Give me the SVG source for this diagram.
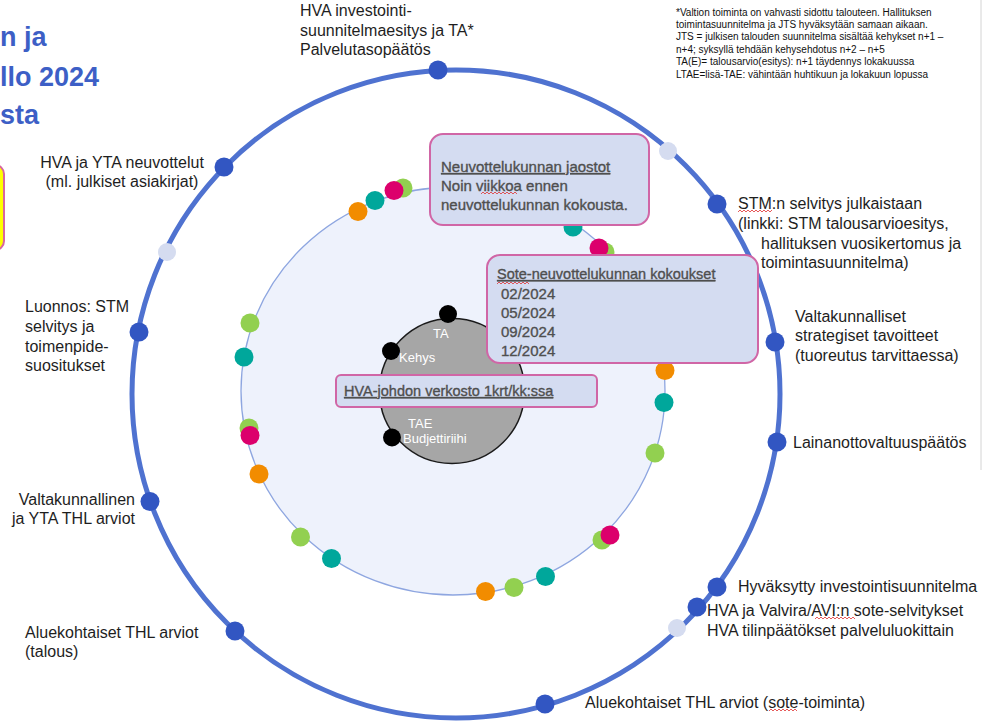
<svg xmlns="http://www.w3.org/2000/svg" width="992" height="724" viewBox="0 0 992 724">
<defs>
<style>
.lbl{font-family:"Liberation Sans",Arial,sans-serif;font-size:16px;fill:#1e1e1e}
.note{font-family:"Liberation Sans",Arial,sans-serif;font-size:10px;fill:#111}
.title{font-family:"Liberation Sans",Arial,sans-serif;font-size:27px;font-weight:bold;fill:#3d5fc6}
.box{fill:#d4dcf1;stroke:#d066a6;stroke-width:2}
.bt{font-family:"Liberation Sans",Arial,sans-serif;font-size:14.5px;fill:#4f4f4f;stroke:#4f4f4f;stroke-width:0.35}
.hd{text-decoration:underline}
.ct{font-family:"Liberation Sans",Arial,sans-serif;font-size:13px;fill:#ffffff}
.d{fill:#3256c2}
.lt{fill:#d5dcf0}
.g{fill:#92d050}
.t{fill:#00a79b}
.o{fill:#f28c00}
.p{fill:#dc006c}
.k{fill:#000}
.sq{fill:none;stroke:#e03030;stroke-width:0.8}
</style>
</defs>
<rect x="0" y="0" width="992" height="724" fill="#ffffff"/>

<g id="title">
<text class="title" x="0" y="46">n ja</text>
<text class="title" x="0" y="86">llo 2024</text>
<text class="title" x="0" y="124">sta</text>
</g>
<g id="yellow-box"><rect x="-30" y="165" width="34" height="85" rx="9" fill="#ffff00" stroke="#d766a0" stroke-width="2"/></g>
<line x1="981" y1="0" x2="981" y2="470" stroke="#d4d4d4" stroke-width="1"/>

<g id="note">
<text class="note" x="676" y="16">*Valtion toiminta on vahvasti sidottu talouteen. Hallituksen</text>
<text class="note" x="676" y="28">toimintasuunnitelma ja JTS hyväksytään samaan aikaan.</text>
<text class="note" x="676" y="40">JTS = julkisen talouden suunnitelma sisältää kehykset n+1 –</text>
<text class="note" x="676" y="52.5">n+4; syksyllä tehdään kehysehdotus n+2 – n+5</text>
<text class="note" x="676" y="65">TA(E)= talousarvio(esitys): n+1 täydennys lokakuussa</text>
<text class="note" x="676" y="77.5">LTAE=lisä-TAE: vähintään huhtikuun ja lokakuun lopussa</text>
</g>

<g id="connectors">
<circle cx="456" cy="394" r="324" fill="none" stroke="#4f72d0" stroke-width="5"/>
<ellipse cx="453" cy="391" rx="212" ry="204" fill="#eef2fc" stroke="#8ea6e0" stroke-width="1.3"/>
</g>

<g id="inner-dots">
<circle class="o" cx="358" cy="211.5" r="9.5"/>
<circle class="t" cx="375" cy="200.5" r="9.5"/>
<circle class="g" cx="403" cy="188" r="9.5"/>
<circle class="p" cx="394" cy="190.5" r="9.5"/>
<circle class="g" cx="250" cy="323" r="9.5"/>
<circle class="t" cx="244" cy="357" r="9.5"/>
<circle class="g" cx="249" cy="428" r="9.5"/>
<circle class="p" cx="250" cy="435.5" r="9.5"/>
<circle class="o" cx="259" cy="474" r="9.5"/>
<circle class="g" cx="300.5" cy="537" r="9.5"/>
<circle class="t" cx="331.5" cy="558.5" r="9.5"/>
<circle class="o" cx="485.5" cy="591.5" r="9.5"/>
<circle class="g" cx="514" cy="587.5" r="9.5"/>
<circle class="t" cx="545.5" cy="576.5" r="9.5"/>
<circle class="g" cx="602" cy="540" r="9.5"/>
<circle class="p" cx="610" cy="535" r="9.5"/>
<circle class="g" cx="655" cy="453" r="9.5"/>
<circle class="t" cx="664" cy="402.5" r="9.5"/>
<circle class="o" cx="665" cy="370.5" r="9.5"/>
<circle class="g" cx="605" cy="252" r="9.5"/>
<circle class="p" cx="599" cy="248" r="9.5"/>
<circle class="t" cx="573" cy="227" r="9.5"/>
</g>

<g id="core">
<circle cx="452" cy="391" r="72.5" fill="#a6a6a6" stroke="#1a1a1a" stroke-width="1.5"/>
<circle class="k" cx="448" cy="314" r="9"/>
<circle class="k" cx="391" cy="351" r="9"/>
<circle class="k" cx="392" cy="437.5" r="9"/>
<text class="ct" x="433" y="338">TA</text>
<text class="ct" x="399" y="362">Kehys</text>
<text class="ct" x="408" y="428">TAE</text>
<text class="ct" x="403" y="443">Budjettiriihi</text>
</g>

<g id="box-jaostot">
<rect class="box" x="430" y="134" width="219" height="91" rx="13"/>
<text class="bt hd" x="441" y="172" style="font-size:15px">Neuvottelukunnan jaostot</text>
<text class="bt" x="441" y="191" style="font-size:15px">Noin viikkoa ennen</text>
<text class="bt" x="441" y="210" style="font-size:15px">neuvottelukunnan kokousta.</text>
<path class="sq" d="M481 194 l2 -2 l2 2 l2 -2 l2 2 l2 -2 l2 2 l2 -2 l2 2 l2 -2 l2 2 l2 -2 l2 2 l2 -2 l2 2 l2 -2 l2 2 l2 -2 l2 2"/>
</g>

<g id="box-sote">
<rect class="box" x="487" y="255" width="271" height="108" rx="13"/>
<text class="bt hd" x="497" y="279">Sote-neuvottelukunnan kokoukset</text>
<text class="bt" x="501" y="299" style="font-size:15px">02/2024</text>
<text class="bt" x="501" y="318" style="font-size:15px">05/2024</text>
<text class="bt" x="501" y="337" style="font-size:15px">09/2024</text>
<text class="bt" x="501" y="356" style="font-size:15px">12/2024</text>
<path class="sq" d="M497 284 l2 -2 l2 2 l2 -2 l2 2 l2 -2 l2 2 l2 -2 l2 2 l2 -2 l2 2 l2 -2 l2 2 l2 -2 l2 2 l2 -2 l2 2"/>
</g>

<g id="box-hva">
<rect class="box" x="336" y="375" width="261" height="32" rx="5"/>
<text class="bt hd" x="344" y="396">HVA-johdon verkosto 1krt/kk:ssa</text>
</g>

<g id="n-top">
<circle class="d" cx="438" cy="70" r="9.5"/>
<text class="lbl" x="300" y="16">HVA investointi-</text>
<text class="lbl" x="300" y="36">suunnitelmaesitys ja TA*</text>
<text class="lbl" x="300" y="55">Palvelutasopäätös</text>
</g>
<g id="n-lt1"><circle class="lt" cx="668" cy="151" r="9"/></g>
<g id="n-lt2"><circle class="lt" cx="167" cy="252" r="9"/></g>
<g id="n-lt3"><circle class="lt" cx="677" cy="628" r="9"/></g>

<g id="n-neuvottelut">
<circle class="d" cx="224" cy="167" r="9.5"/>
<text class="lbl" x="122" y="168" text-anchor="middle">HVA ja YTA neuvottelut</text>
<text class="lbl" x="122" y="187" text-anchor="middle">(ml. julkiset asiakirjat)</text>
</g>
<g id="n-stm">
<circle class="d" cx="717" cy="204" r="9.5"/>
<text class="lbl" x="738" y="209">STM:n selvitys julkaistaan</text>
<text class="lbl" x="738" y="229">(linkki: STM talousarvioesitys,</text>
<text class="lbl" x="761" y="249">hallituksen vuosikertomus ja</text>
<text class="lbl" x="761" y="268">toimintasuunnitelma)</text>
<path class="sq" d="M738 212 l2 -2 l2 2 l2 -2 l2 2 l2 -2 l2 2 l2 -2 l2 2 l2 -2 l2 2 l2 -2 l2 2 l2 -2 l2 2 l2 -2 l2 2 l2 -2"/>
</g>
<g id="n-strategiset">
<circle class="d" cx="775" cy="342" r="9.5"/>
<text class="lbl" x="795" y="322">Valtakunnalliset</text>
<text class="lbl" x="795" y="341">strategiset tavoitteet</text>
<text class="lbl" x="795" y="361">(tuoreutus tarvittaessa)</text>
</g>
<g id="n-laina">
<circle class="d" cx="777" cy="442" r="9.5"/>
<text class="lbl" x="793" y="448">Lainanottovaltuuspäätös</text>
</g>
<g id="n-hyvaksytty">
<circle class="d" cx="717" cy="587" r="9.5"/>
<text class="lbl" x="738" y="592">Hyväksytty investointisuunnitelma</text>
</g>
<g id="n-valvira">
<circle class="d" cx="697" cy="607" r="9.5"/>
<text class="lbl" x="707" y="616">HVA ja Valvira/AVI:n sote-selvitykset</text>
<text class="lbl" x="707" y="636">HVA tilinpäätökset palveluluokittain</text>
<path class="sq" d="M815 619 l2 -2 l2 2 l2 -2 l2 2 l2 -2 l2 2 l2 -2 l2 2 l2 -2 l2 2 l2 -2 l2 2 l2 -2 l2 2 l2 -2 l2 2 l2 -2 l2 2 l2 -2 l2 2"/>
</g>
<g id="n-sote-toiminta">
<circle class="d" cx="545" cy="704" r="9.5"/>
<text class="lbl" x="585" y="708">Aluekohtaiset THL arviot (sote-toiminta)</text>
<path class="sq" d="M769 711 l2 -2 l2 2 l2 -2 l2 2 l2 -2 l2 2 l2 -2 l2 2 l2 -2 l2 2 l2 -2 l2 2 l2 -2 l2 2"/>
</g>
<g id="n-talous">
<circle class="d" cx="235" cy="631" r="9.5"/>
<text class="lbl" x="25" y="638">Aluekohtaiset THL arviot</text>
<text class="lbl" x="25" y="657">(talous)</text>
</g>
<g id="n-valtakunnallinen">
<circle class="d" cx="150" cy="501.5" r="9.5"/>
<text class="lbl" x="135" y="505" text-anchor="end">Valtakunnallinen</text>
<text class="lbl" x="135" y="524" text-anchor="end">ja YTA THL arviot</text>
</g>
<g id="n-luonnos">
<circle class="d" cx="139" cy="332" r="9.5"/>
<text class="lbl" x="25" y="312">Luonnos: STM</text>
<text class="lbl" x="25" y="332">selvitys ja</text>
<text class="lbl" x="25" y="352">toimenpide-</text>
<text class="lbl" x="25" y="371">suositukset</text>
</g>
</svg>
